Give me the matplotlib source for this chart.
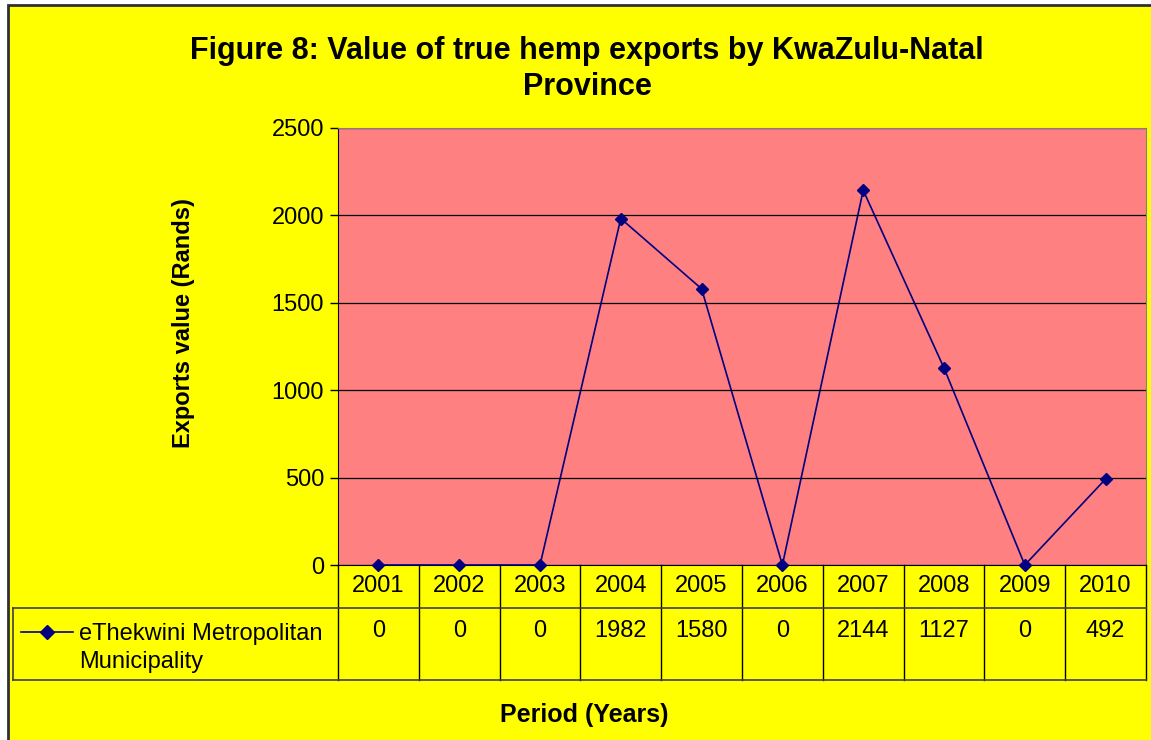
import numpy as np
import matplotlib.pyplot as plt
from matplotlib.transforms import blended_transform_factory
from matplotlib.lines import Line2D
from matplotlib.patches import Rectangle

plt.rcParams['font.family'] = ['Liberation Sans', 'DejaVu Sans']

# data
years = ['2001', '2002', '2003', '2004', '2005', '2006', '2007', '2008', '2009', '2010']
exports = [0, 0, 0, 1982, 1580, 0, 2144, 1127, 0, 492]
series_name = 'eThekwini Metropolitan\nMunicipality'

W, H = 1151, 740
fig = plt.figure(figsize=(W / 100, H / 100), dpi=100, facecolor='white')


def fx(px):
    return px / W


def fy(py):
    return 1 - py / H


# chart area: yellow with dark border on top/left
fig.patches.append(Rectangle((fx(8), fy(760)), 1.2, fy(5) - fy(760), transform=fig.transFigure,
                             facecolor='#FFFF00', edgecolor='#303030', linewidth=2, zorder=-5))

ax = fig.add_axes([fx(338), fy(565), fx(1146) - fx(338), fy(128) - fy(565)])
ax.set_facecolor('#FF8080')

x = np.arange(len(years))
ax.plot(x, exports, color='#000080', linewidth=1.2, marker='D', markersize=6,
        markerfacecolor='#000080', markeredgecolor='#000080', zorder=3, clip_on=False)

ax.set_xlim(-0.5, len(years) - 0.5)
ax.set_ylim(0, 2500)
ax.set_yticks(np.arange(0, 2501, 500))
ax.yaxis.grid(True, color='black', linewidth=0.9)
ax.set_axisbelow(True)
ax.set_xticks([])
ax.tick_params(axis='y', labelsize=17, length=6, width=1, pad=4)
for s in ['top', 'right']:
    ax.spines[s].set_color('#808080')
ax.spines['left'].set_color('black')
ax.spines['bottom'].set_color('black')

ax.set_ylabel('Exports value (Rands)', fontsize=17, fontweight='bold')
ax.yaxis.set_label_coords(-0.177, 0.554)

# data table below the plot
tr = blended_transform_factory(ax.transData, fig.transFigure)
y_top, y_mid, y_bot = fy(565), fy(608), fy(680)
edges = np.arange(len(years) + 1) - 0.5
for e in edges:
    fig.add_artist(Line2D([e, e], [y_top, y_bot], transform=tr, color='black', linewidth=1))
for yy in [y_mid, y_bot]:
    fig.add_artist(Line2D([fx(13), fx(1146)], [yy, yy], transform=fig.transFigure,
                          color='#404040', linewidth=1.2))
fig.add_artist(Line2D([fx(13), fx(13)], [y_mid, y_bot], transform=fig.transFigure,
                      color='#404040', linewidth=1.2))

for xi, yr, v in zip(x, years, exports):
    fig.text(xi, fy(586), yr, transform=tr, ha='center', va='center', fontsize=17)
    fig.text(xi, fy(631), str(v), transform=tr, ha='center', va='center', fontsize=17)

# legend key inside the table
fig.add_artist(Line2D([fx(21), fx(73)], [fy(632), fy(632)], transform=fig.transFigure,
                      color='#000080', linewidth=1.2))
fig.add_artist(Line2D([fx(47)], [fy(632)], transform=fig.transFigure,
                      color='#000080', marker='D', markersize=7, linestyle='none'))
fig.text(fx(79), fy(648), series_name, ha='left', va='center', fontsize=17,
         linespacing=1.34)

fig.text(fx(584), fy(715), 'Period (Years)', ha='center', va='center',
         fontsize=18, fontweight='bold')

fig.text(fx(587), fy(69), 'Figure 8: Value of true hemp exports by KwaZulu-Natal\nProvince',
         ha='center', va='center', fontsize=22, fontweight='bold', linespacing=1.26)

fig.savefig('out.png', dpi=100, facecolor=fig.get_facecolor())
